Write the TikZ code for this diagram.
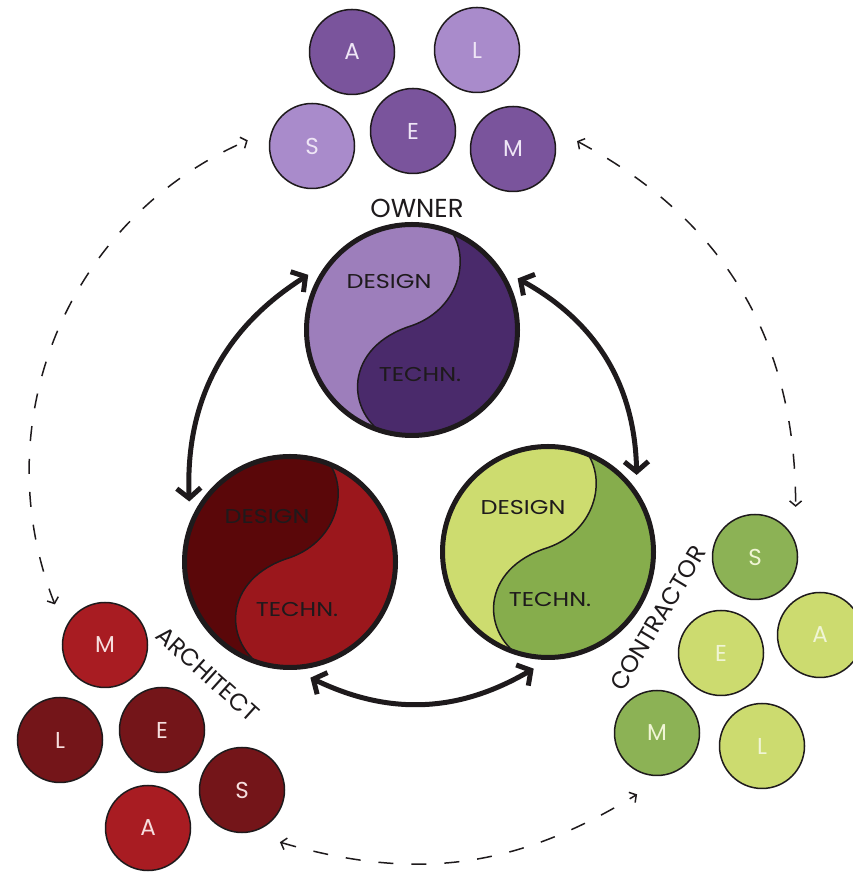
\documentclass[tikz,border=0pt]{standalone}
\usepackage{fontspec}
\setmainfont{Poppins}
\newfontfamily\widefont[FakeStretch=1.2]{Poppins}
\usetikzlibrary{arrows.meta}

\definecolor{ownlight}{HTML}{A98BCB}
\definecolor{owndark}{HTML}{7A549C}
\definecolor{owndesign}{HTML}{9D7EBB}
\definecolor{owntechn}{HTML}{4A2A6B}
\definecolor{owntext}{HTML}{EFE6F6}
\definecolor{arcbright}{HTML}{A81C22}
\definecolor{arcdark}{HTML}{741519}
\definecolor{arcdesign}{HTML}{5A0709}
\definecolor{arctechn}{HTML}{9B171C}
\definecolor{arctext}{HTML}{F6DEDE}
\definecolor{conmid}{HTML}{8CB255}
\definecolor{conlight}{HTML}{CCDB6F}
\definecolor{condesign}{HTML}{CDDC6F}
\definecolor{contechn}{HTML}{86AD4C}
\definecolor{context}{HTML}{F0F5D5}
\definecolor{ink}{HTML}{1E1A1C}

\newcommand\scurve{(258:1) .. controls (-0.62,-0.75) and (-0.62,-0.15) .. (0,0.04) .. controls (0.45,0.2) and (0.55,0.7) .. (71.6:1)}
\newcommand\designside{(71.6:1) arc[start angle=71.6, end angle=258, radius=1] .. controls (-0.62,-0.75) and (-0.62,-0.15) .. (0,0.04) .. controls (0.45,0.2) and (0.55,0.7) .. (71.6:1) -- cycle}

\begin{document}
\begin{tikzpicture}[x=1pt, y=1pt,
  letterball/.style 2 args={circle, minimum size=85pt, inner sep=0pt, outer sep=22pt, draw=ink, line width=1.5pt, fill=#1, text=#2, font=\fontsize{23}{23}\selectfont},
  bigball/.style 2 args={circle, minimum size=211pt, inner sep=0pt, outer sep=12pt, fill=#2, draw=ink, line width=5pt,
    path picture={\begin{scope}[shift={(path picture bounding box.center)}, x=110pt, y=110pt]
      \fill[#1] \designside;
      \draw[ink, line width=1.5pt] \scurve;
    \end{scope}}},
  ballword/.style={text=ink, font=\widefont\fontsize{20}{20}\selectfont},
  rolename/.style={text=ink, font=\fontsize{24}{24}\selectfont},
  swapline/.style={line width=5pt, draw=ink, {Straight Barb[length=10pt, width=24pt]}-{Straight Barb[length=10pt, width=24pt]}},
  talkline/.style={line width=1.5pt, draw=ink, dash pattern=on 15pt off 18pt, {Straight Barb[length=5pt, width=12pt]}-{Straight Barb[length=5pt, width=12pt]}}]
\useasboundingbox (0,0) rectangle (852,872);

\node[bigball={owndesign}{owntechn}] (ownball) at (412,542) {};
\node[bigball={arcdesign}{arctechn}] (arcball) at (290,310) {};
\node[bigball={condesign}{contechn}] (conball) at (548,320) {};

\node[ballword] (ownD) at (389,590) {DESIGN};
\node[ballword] (ownT) at (420,497) {TECHN.};
\node[ballword] (arcD) at (267,355) {DESIGN};
\node[ballword] (arcT) at (297,262) {TECHN.};
\node[ballword] (conD) at (523,364) {DESIGN};
\node[ballword] (conT) at (550,272) {TECHN.};

\node[letterball={owndark}{owntext}] (ownA) at (352,820) {A};
\node[letterball={ownlight}{owntext}] (ownL) at (477,822) {L};
\node[letterball={ownlight}{owntext}] (ownS) at (312,726) {S};
\node[letterball={owndark}{owntext}] (ownE) at (413,741) {E};
\node[letterball={owndark}{owntext}] (ownM) at (513,723) {M};
\node[rolename, font=\fontsize{26}{26}\selectfont] (owner) at (417,664) {OWNER};

\node[letterball={arcbright}{arctext}] (arcM) at (105,227) {M};
\node[letterball={arcdark}{arctext}] (arcL) at (60,132) {L};
\node[letterball={arcdark}{arctext}] (arcE) at (162,142) {E};
\node[letterball={arcdark}{arctext}] (arcS) at (242,82) {S};
\node[letterball={arcbright}{arctext}] (arcA) at (148,44) {A};
\node[rolename, rotate=-42] (architect) at (208,198) {ARCHITECT};

\node[letterball={conmid}{context}] (conS) at (755,315) {S};
\node[letterball={conlight}{context}] (conA) at (820,237) {A};
\node[letterball={conlight}{context}] (conE) at (721,219) {E};
\node[letterball={conmid}{context}] (conM) at (657,139) {M};
\node[letterball={conlight}{context}] (conL) at (762,126) {L};
\node[rolename, rotate=59] (contractor) at (658,254) {CONTRACTOR};

\draw[swapline] (arcball.149) to[bend left=30] (ownball.152);
\draw[swapline] (ownball.26) to[bend left=30] (conball.41);
\draw[swapline] (arcball.-80) to[bend right=28] (conball.-97);

\draw[talkline] (arcM.141) to[bend left=44] (ownS.175);
\draw[talkline] (ownM.7) to[bend left=31] (conS.51);
\draw[talkline] (arcS.-54) to[bend right=24] (conM.-108);

\end{tikzpicture}
\end{document}
